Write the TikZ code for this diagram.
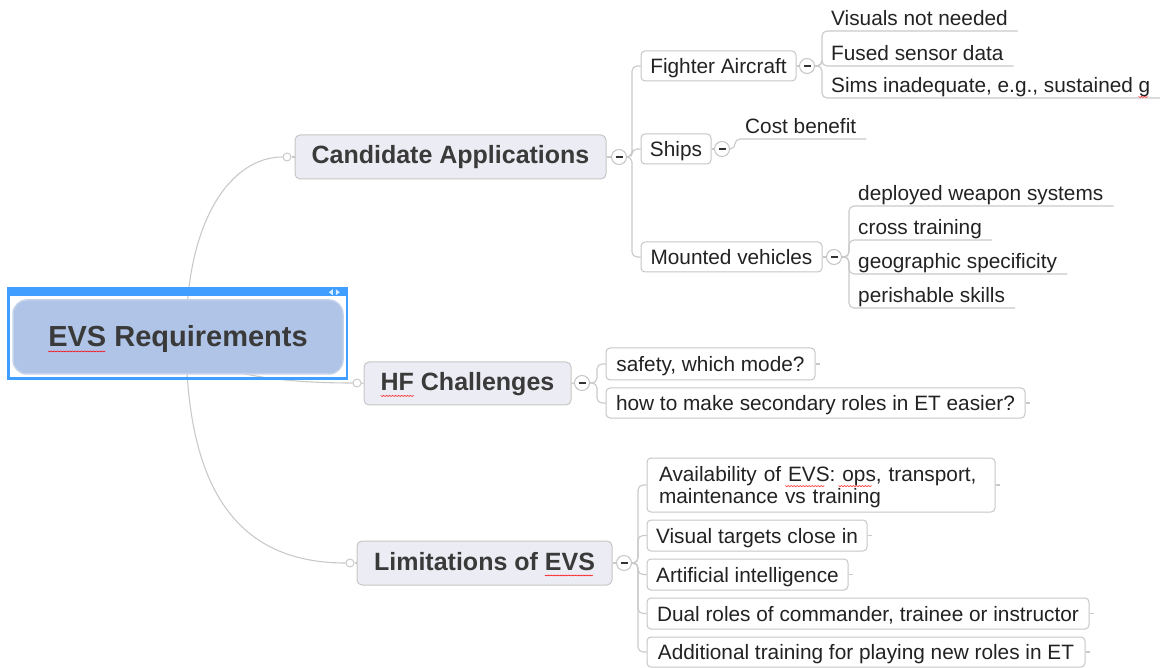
\documentclass[tikz,border=0pt]{standalone}
\usepackage{fontspec}
\setmainfont{Liberation Sans}
\pgfdeclarelayer{bg}
\pgfsetlayers{bg,main}
\definecolor{conncol}{HTML}{C9C9C9}
\definecolor{bordercol}{HTML}{C6C6C6}
\definecolor{lvlfill}{HTML}{ECECF4}
\definecolor{rootfill}{HTML}{AFC4E6}
\definecolor{rootborder}{HTML}{C4D2EA}
\definecolor{framecol}{HTML}{3F9EFF}
\definecolor{txtdark}{HTML}{3A3A3A}
\definecolor{txtleaf}{HTML}{222222}
\newlength\lenRa \newlength\lenRb
\newlength\lenHa \newlength\lenHb
\newlength\lenLa \newlength\lenLb
\newlength\lenAa \newlength\lenAb
\newlength\lenOa \newlength\lenOb
\newlength\lenSa \newlength\lenSb
\newcommand\leaffont{\fontsize{20.8}{22.5}\selectfont}
\newcommand\lvlfont{\fontsize{25}{28}\selectfont\bfseries}
\newcommand\rootfont{\fontsize{29}{32}\selectfont\bfseries}
\newcommand\squig[2]{\pgfmathsetmacro\nz{max(1,int(#2/3))}\draw[spellwave] (#1) foreach \i in {1,...,\nz} { -- ++(1.5pt,-0.9pt) -- ++(1.5pt,0.9pt)};}
\begin{document}
\settowidth\lenRa{\rootfont EVS Requirements}\settowidth\lenRb{\rootfont EVS}%
\settowidth\lenHa{\lvlfont HF Challenges}\settowidth\lenHb{\lvlfont HF}%
\settowidth\lenLa{\lvlfont Limitations of EVS}\settowidth\lenLb{\lvlfont EVS}%
\settowidth\lenAa{\leaffont Availability of EVS}\settowidth\lenAb{\leaffont EVS}%
\settowidth\lenOa{\leaffont Availability of EVS: ops}\settowidth\lenOb{\leaffont ops}%
\settowidth\lenSa{\leaffont Sims inadequate, e.g., sustained g}\settowidth\lenSb{\leaffont g}%
\begin{tikzpicture}[x=1pt,y=-1pt,
  conn/.style={draw=conncol, line width=1.1pt, rounded corners=5pt},
  spellwave/.style={draw=red, line width=0.55pt},
  basebox/.style={draw=bordercol, line width=1pt, rounded corners=4pt, fill=white, font=\leaffont, text=txtleaf, inner sep=0pt},
  boxnode/.style={basebox, text height=15pt, text depth=0pt},
  lvlnode/.style={basebox, fill=lvlfill, font=\lvlfont, text=txtdark, rounded corners=5pt, text height=18pt, text depth=4pt},
  rootnode/.style={draw=rootborder, line width=1.5pt, fill=rootfill, rounded corners=14pt, font=\rootfont, text=txtdark, minimum width=330pt, minimum height=74pt, inner sep=0pt, text height=20.9pt, text depth=1pt},
  ulnode/.style={font=\leaffont, text=txtleaf, anchor=south west, inner xsep=10pt, inner ysep=1pt, text height=15pt, text depth=4.5pt},
  minusnode/.style={circle, draw=bordercol, fill=white, line width=1pt, minimum size=15pt, inner sep=0pt,
    path picture={\draw[black!80, line width=1.1pt] ([xshift=-3.5pt]path picture bounding box.center) -- ([xshift=3.5pt]path picture bounding box.center);}},
  dotnode/.style={circle, draw=conncol, fill=white, line width=1pt, minimum size=8pt, inner sep=0pt}]
\useasboundingbox (0,0) rectangle (1160,668);

% root
\node[rootnode] (root) at (178,337) {EVS Requirements};
\draw[framecol, line width=2.5pt] ([xshift=-4pt,yshift=11pt]root.north west) rectangle ([xshift=3pt,yshift=-4pt]root.south east);
\fill[framecol] ([xshift=-4pt,yshift=11pt]root.north west) rectangle ([xshift=3pt,yshift=3pt]root.north east);
\fill[white!80!framecol] ([xshift=-15pt,yshift=7pt]root.north east) -- ++(4,-3) -- ++(0,6) -- cycle;
\fill[white!80!framecol] ([xshift=-4pt,yshift=7pt]root.north east) -- ++(-4,-3) -- ++(0,6) -- cycle;

% Candidate Applications
\node[dotnode] (cad) at (287,157) {};
\node[lvlnode, minimum width=311pt, minimum height=44pt] (ca) at (450.5,157) {Candidate Applications};
\node[minusnode] (cam) at (619,157) {};
\node[boxnode, minimum width=155pt, minimum height=30pt] (fa) at (718.5,66) {Fighter Aircraft};
\node[minusnode] (fam) at (807,66) {};
\node[ulnode] (fa1) at (821,31) {Visuals not needed};
\node[ulnode] (fa2) at (821,66) {Fused sensor data};
\node[ulnode] (fa3) at (821,98) {Sims inadequate, e.g., sustained g};
\node[boxnode, minimum width=70pt, minimum height=30pt] (sh) at (676,149) {Ships};
\node[minusnode] (shm) at (722,149) {};
\node[ulnode] (sh1) at (735,139) {Cost benefit};
\node[boxnode, minimum width=181pt, minimum height=30pt] (mv) at (731.5,257) {Mounted vehicles};
\node[minusnode] (mvm) at (834,257) {};
\node[ulnode] (mv1) at (848,206) {deployed weapon systems};
\node[ulnode] (mv2) at (848,240) {cross training};
\node[ulnode] (mv3) at (848,274) {geographic specificity};
\node[ulnode] (mv4) at (848,308) {perishable skills};

% HF Challenges
\node[dotnode] (hfd) at (357,383) {};
\node[lvlnode, minimum width=207pt, minimum height=43pt] (hf) at (467.5,383.5) {HF Challenges};
\node[minusnode] (hfm) at (582,383) {};
\node[boxnode, minimum width=209pt, minimum height=32pt] (hf1) at (710.5,364) {safety, which mode?};
\node[boxnode, minimum width=419pt, minimum height=30pt] (hf2) at (815.5,403) {how to make secondary roles in ET easier?};

% Limitations of EVS
\node[dotnode] (lid) at (350,563) {};
\node[lvlnode, minimum width=255pt, minimum height=44pt] (li) at (484.5,563) {Limitations of EVS};
\node[minusnode] (lim) at (624,563) {};
\node[basebox, minimum width=348pt, minimum height=54pt, text width=324pt, align=left, inner xsep=12pt, text height=15pt, text depth=22.2pt] (li1) at (821,485) {Availability of EVS: ops, transport,\\maintenance vs training};
\node[boxnode, minimum width=220pt, minimum height=31pt] (li2) at (757,535.5) {Visual targets close in};
\node[boxnode, minimum width=201pt, minimum height=31pt] (li3) at (747.5,574.5) {Artificial intelligence};
\node[boxnode, minimum width=442pt, minimum height=31pt] (li4) at (868,613.5) {Dual roles of commander, trainee or instructor};
\node[boxnode, minimum width=438pt, minimum height=30pt] (li5) at (866,652) {Additional training for playing new roles in ET};

% spell-check marks
\squig{[xshift={-0.5\lenRa}, yshift=-4pt]root.base}{\lenRb}
\squig{[xshift={-0.5\lenHa}, yshift=-5pt]hf.base}{\lenHb}
\squig{[xshift={0.5\lenLa-\lenLb}, yshift=-5pt]li.base}{\lenLb}
\squig{[xshift={12pt+\lenAa-\lenAb}, yshift=-0.6pt]li1.west}{\lenAb}
\squig{[xshift={12pt+\lenOa-\lenOb}, yshift=-0.6pt]li1.west}{\lenOb}
\squig{[xshift={10pt+\lenSa-\lenSb}, yshift=1.5pt]fa3.south west}{\lenSb}

\begin{pgfonlayer}{bg}
\draw[conn] ([xshift=8pt]root.center) .. controls +(0,-120) and +(-50,0) .. (cad.west);
\draw[conn] ([xshift=8pt]root.center) .. controls +(10,40) and +(-60,0) .. (hfd.west);
\draw[conn] ([xshift=8pt]root.center) .. controls +(0,150) and +(-110,0) .. (lid.west);

\draw[conn] (cad.east) -- (ca.west);
\draw[conn] (ca.east) -- (cam.west);
\foreach \c in {fa,sh,mv} \draw[conn] (cam.east) -- ++(5,0) |- (\c.west);
\draw[conn] (fa.east) -- (fam.west);
\foreach \c in {fa1,fa2,fa3} \draw[conn] (fam.east) -- ++(7,0) |- (\c.south east);
\draw[conn] (sh.east) -- (shm.west);
\draw[conn] (shm.east) -- ++(5,0) |- (sh1.south east);
\draw[conn] (mv.east) -- (mvm.west);
\foreach \c in {mv1,mv2,mv3,mv4} \draw[conn] (mvm.east) -- ++(7,0) |- (\c.south east);

\draw[conn] (hfd.east) -- (hf.west);
\draw[conn] (hf.east) -- (hfm.west);
\foreach \c in {hf1,hf2} {\draw[conn] (hfm.east) -- ++(7,0) |- (\c.west); \draw[conn] (\c.east) -- ++(4,0);}

\draw[conn] (lid.east) -- (li.west);
\draw[conn] (li.east) -- (lim.west);
\foreach \c in {li1,li2,li3,li4,li5} {\draw[conn] (lim.east) -- ++(6,0) |- (\c.west); \draw[conn] (\c.east) -- ++(4,0);}
\end{pgfonlayer}
\end{tikzpicture}
\end{document}
